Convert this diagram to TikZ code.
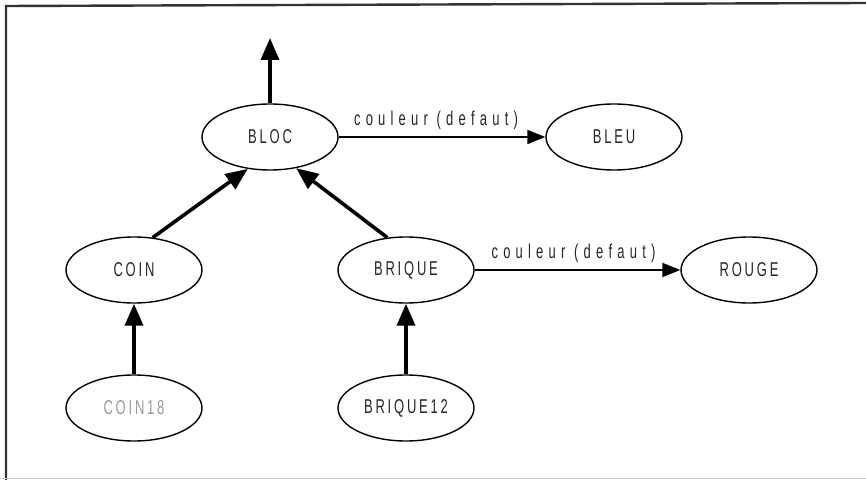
\documentclass[tikz,border=0pt]{standalone}
\usepackage{fontspec}
\setmainfont{Liberation Sans}[FakeStretch=0.65, LetterSpace=14]
\usetikzlibrary{shapes.geometric, arrows.meta}

\begin{document}
\begin{tikzpicture}[x=0.5pt, y=-0.5pt]

% Define styles
\tikzstyle{class}=[draw, ellipse, line width=0.7pt, minimum width=68pt, minimum height=33pt, inner sep=0pt, text=black!85, font=\fontsize{10}{12}\selectfont]
\tikzstyle{faded}=[text=black!40]
\tikzstyle{isa}=[line width=1.8pt, -{Triangle[length=11pt, width=9pt]}]
\tikzstyle{attr}=[line width=0.9pt, -{Triangle[length=9pt, width=7pt]}]
\tikzstyle{label}=[above, text=black!85, font=\fontsize{10}{12}\selectfont\addfontfeatures{LetterSpace=26}]

% Frame
\useasboundingbox (0,0) rectangle (866,480);
\draw[line width=1.2pt, black!80] (6,480) -- (6,6) -- (866,3);
\draw[black!20] (0,478) -- (866,478);

% Classes
\foreach \name/\x/\y/\text in {bloc/270/137/BLOC, bleu/614/137/BLEU, coin/134/270/COIN, brique/406/270/BRIQUE, rouge/749/270/ROUGE, brique12/406/408/BRIQUE12} {
  \node[class] (\name) at (\x,\y) {\text};
}
\node[class, faded] (coin18) at (134,408) {COIN18};

% Inheritance
\coordinate (top) at (270,38);
\draw[isa] (bloc) -- (top);
\draw[isa] (coin.60) -- (bloc.235);
\draw[isa] (brique.120) -- (bloc.310);
\draw[isa] (coin18) -- (coin);
\draw[isa] (brique12) -- (brique);

% Attributes
\draw[attr] (bloc) -- node[label, xshift=-3pt] {couleur (defaut)} (bleu);
\draw[attr] (brique) -- node[label, xshift=-2pt] {couleur (defaut)} (rouge);

\end{tikzpicture}
\end{document}
